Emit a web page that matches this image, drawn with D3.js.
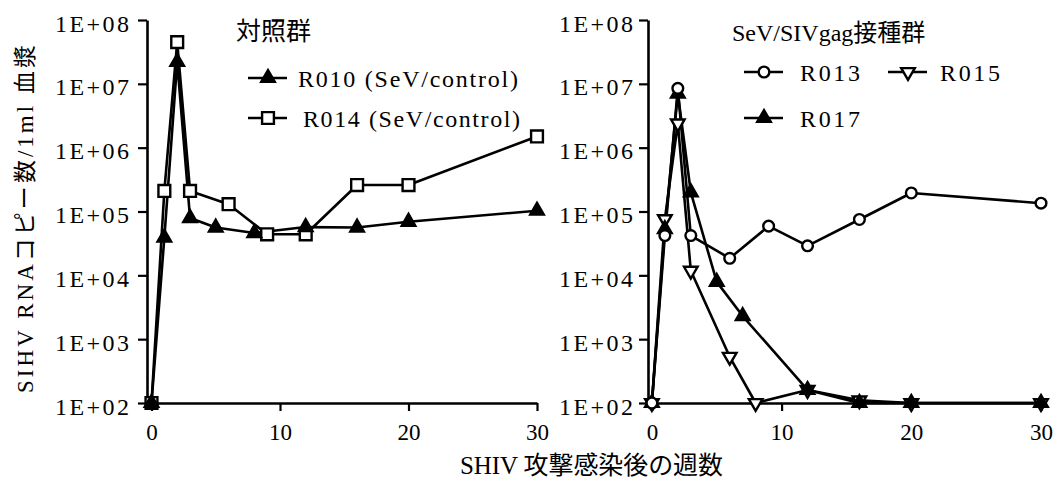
<!DOCTYPE html>
<html>
<head>
<meta charset="utf-8">
<script src="https://cdn.jsdelivr.net/npm/d3@7"></script>
<style>
  html, body { margin: 0; padding: 0; background: #fff; }
  svg { display: block; }
  text { font-family: "Liberation Serif", "Noto Sans CJK JP", serif; fill: #000; }
</style>
</head>
<body>
<svg id="chart" width="1059" height="481"></svg>
<script>
// ---- data ----
const yTickValues = [1e2, 1e3, 1e4, 1e5, 1e6, 1e7, 1e8];
const yTickLabels = ["1E+02", "1E+03", "1E+04", "1E+05", "1E+06", "1E+07", "1E+08"];
const xTickValues = [0, 10, 20, 30];

const weeksR010 = [0, 1, 2, 3, 5, 8, 12, 16, 20, 30];
const valsR010  = [1e2, 3.9e4, 2.2e7, 7.9e4, 5.6e4, 4.6e4, 5.7e4, 5.6e4, 6.9e4, 1.03e5];
const weeksR014 = [0, 1, 2, 3, 6, 9, 12, 16, 20, 30];
const valsR014  = [1e2, 2.1e5, 4.5e7, 2.1e5, 1.3e5, 4.4e4, 4.4e4, 2.6e5, 2.6e5, 1.5e6];

const weeksR013 = [0, 1, 2, 3, 6, 9, 12, 16, 20, 30];
const valsR013  = [1e2, 4.2e4, 8.5e6, 4.2e4, 1.85e4, 5.9e4, 2.9e4, 7.5e4, 1.95e5, 1.35e5];
const weeksR015 = [0, 1, 2, 3, 6, 8, 12, 16, 20, 30];
const valsR015  = [1e2, 7.6e4, 2.4e6, 1.18e4, 5.3e2, 1e2, 1.6e2, 1.1e2, 1e2, 1e2];
const weeksR017 = [0, 1, 2, 3, 5, 7, 12, 16, 20, 30];
const valsR017  = [1e2, 5.3e4, 7e6, 2e5, 7.9e3, 2.3e3, 1.6e2, 1e2, 1e2, 1e2];

const leftTitle = "対照群";
const rightTitle = "SeV/SIVgag接種群";
const yAxisTitle = "SIHV RNAコピー数/1ml 血漿";
const xAxisTitle = "SHIV 攻撃感染後の週数";

// ---- drawing ----
const svg = d3.select("#chart");

const markers = {
  triUp:   { type: d3.symbolTriangle, size: 80, fill: "#000", rot: 0 },
  square:  { type: d3.symbolSquare,   size: 140, fill: "#fff", rot: 0 },
  circle:  { type: d3.symbolCircle,   size: 90, fill: "#fff", rot: 0 },
  triDown: { type: d3.symbolTriangle, size: 80, fill: "#fff", rot: 180 }
};

function makePanel(cfg) {
  const x = d3.scaleLinear().domain(cfg.xDomain).range(cfg.xRange);
  const y = d3.scaleLog().domain([1e2, 1e8]).range([403, 20]);
  const g = svg.append("g");

  // y axis
  const ya = g.append("g")
    .attr("transform", `translate(${cfg.xRange[0]},0)`)
    .call(d3.axisLeft(y).tickValues(yTickValues)
      .tickFormat(d => yTickLabels[yTickValues.indexOf(d)])
      .tickSize(9).tickSizeOuter(0));
  ya.select(".domain").attr("stroke", "#000").attr("stroke-width", 2.6);
  ya.selectAll(".tick line").attr("stroke", "#000").attr("stroke-width", 2.2);
  ya.selectAll(".tick text")
    .attr("x", cfg.yLabelX).attr("dy", 11).attr("text-anchor", "start")
    .attr("textLength", 74).attr("lengthAdjust", "spacing")
    .style("font-size", "24px").style("font-family", "Liberation Serif");

  // x axis
  const xa = g.append("g")
    .attr("transform", `translate(0,403)`)
    .call(d3.axisBottom(x).tickValues(xTickValues).tickSize(8).tickSizeOuter(0));
  xa.select(".domain").attr("stroke", "#000").attr("stroke-width", 2.6);
  xa.selectAll(".tick line").attr("stroke", "#000").attr("stroke-width", 2.2);
  xa.selectAll(".tick text")
    .attr("y", 37).attr("dy", 0)
    .style("font-size", "23px").style("font-family", "Liberation Serif");

  const line = d3.line().x(d => x(d[0])).y(d => y(d[1]));

  // lines
  cfg.series.forEach(s => {
    const pts = s.weeks.map((w, i) => [w, s.vals[i]]);
    g.append("path").datum(pts)
      .attr("d", line).attr("fill", "none")
      .attr("stroke", "#000").attr("stroke-width", 2.6)
      .attr("stroke-linejoin", "round");
  });
  // markers
  cfg.markerOrder.forEach(idx => {
    const s = cfg.series[idx];
    const m = markers[s.marker];
    const pts = s.weeks.map((w, i) => [w, s.vals[i]]);
    g.selectAll(null).data(pts).enter().append("path")
      .attr("d", d3.symbol().type(m.type).size(m.size))
      .attr("transform", d => `translate(${x(d[0])},${y(d[1])}) rotate(${m.rot})`)
      .attr("fill", m.fill).attr("stroke", "#000").attr("stroke-width", 2.4);
  });

  // legend
  g.append("text").attr("x", cfg.title.x).attr("y", cfg.title.y)
    .style("font-size", cfg.title.size + "px").text(cfg.title.text);
  cfg.legend.forEach(l => {
    const s = cfg.series[l.idx];
    const m = markers[s.marker];
    g.append("line").attr("x1", l.x).attr("x2", l.x + 39)
      .attr("y1", l.y).attr("y2", l.y)
      .attr("stroke", "#000").attr("stroke-width", 2.6);
    g.append("path")
      .attr("d", d3.symbol().type(m.type).size(m.size))
      .attr("transform", `translate(${l.x + 20},${l.y}) rotate(${m.rot})`)
      .attr("fill", m.fill).attr("stroke", "#000").attr("stroke-width", 2.4);
    g.append("text").attr("x", l.tx).attr("y", l.y + 9)
      .attr("textLength", l.tw).attr("lengthAdjust", "spacing")
      .style("font-size", "24px").text(s.name);
  });
}

makePanel({
  xDomain: [-0.35, 30], xRange: [147, 537], yLabelX: -92,
  series: [
    { name: "R010 (SeV/control)", weeks: weeksR010, vals: valsR010, marker: "triUp" },
    { name: "R014 (SeV/control)", weeks: weeksR014, vals: valsR014, marker: "square" }
  ],
  markerOrder: [1, 0],
  title: { x: 236, y: 40, size: 25, text: leftTitle },
  legend: [
    { idx: 0, x: 248, y: 78, tx: 298, tw: 220 },
    { idx: 1, x: 248, y: 118, tx: 303, tw: 217 }
  ]
});

makePanel({
  xDomain: [-0.3, 30], xRange: [648, 1041], yLabelX: -89,
  series: [
    { name: "R013", weeks: weeksR013, vals: valsR013, marker: "circle" },
    { name: "R015", weeks: weeksR015, vals: valsR015, marker: "triDown" },
    { name: "R017", weeks: weeksR017, vals: valsR017, marker: "triUp" }
  ],
  markerOrder: [1, 2, 0],
  title: { x: 732, y: 41, size: 24, text: rightTitle },
  legend: [
    { idx: 0, x: 744, y: 72, tx: 800, tw: 60 },
    { idx: 1, x: 888, y: 72, tx: 940, tw: 60 },
    { idx: 2, x: 744, y: 118, tx: 800, tw: 60 }
  ]
});

// axis titles
svg.append("text")
  .attr("transform", "translate(33,219) rotate(-90)")
  .attr("text-anchor", "middle")
  .attr("textLength", 348).attr("lengthAdjust", "spacing")
  .style("font-size", "23px").text(yAxisTitle);

svg.append("text")
  .attr("x", 460).attr("y", 474)
  .attr("textLength", 263).attr("lengthAdjust", "spacing")
  .style("font-size", "25px").text(xAxisTitle);
</script>
</body>
</html>
